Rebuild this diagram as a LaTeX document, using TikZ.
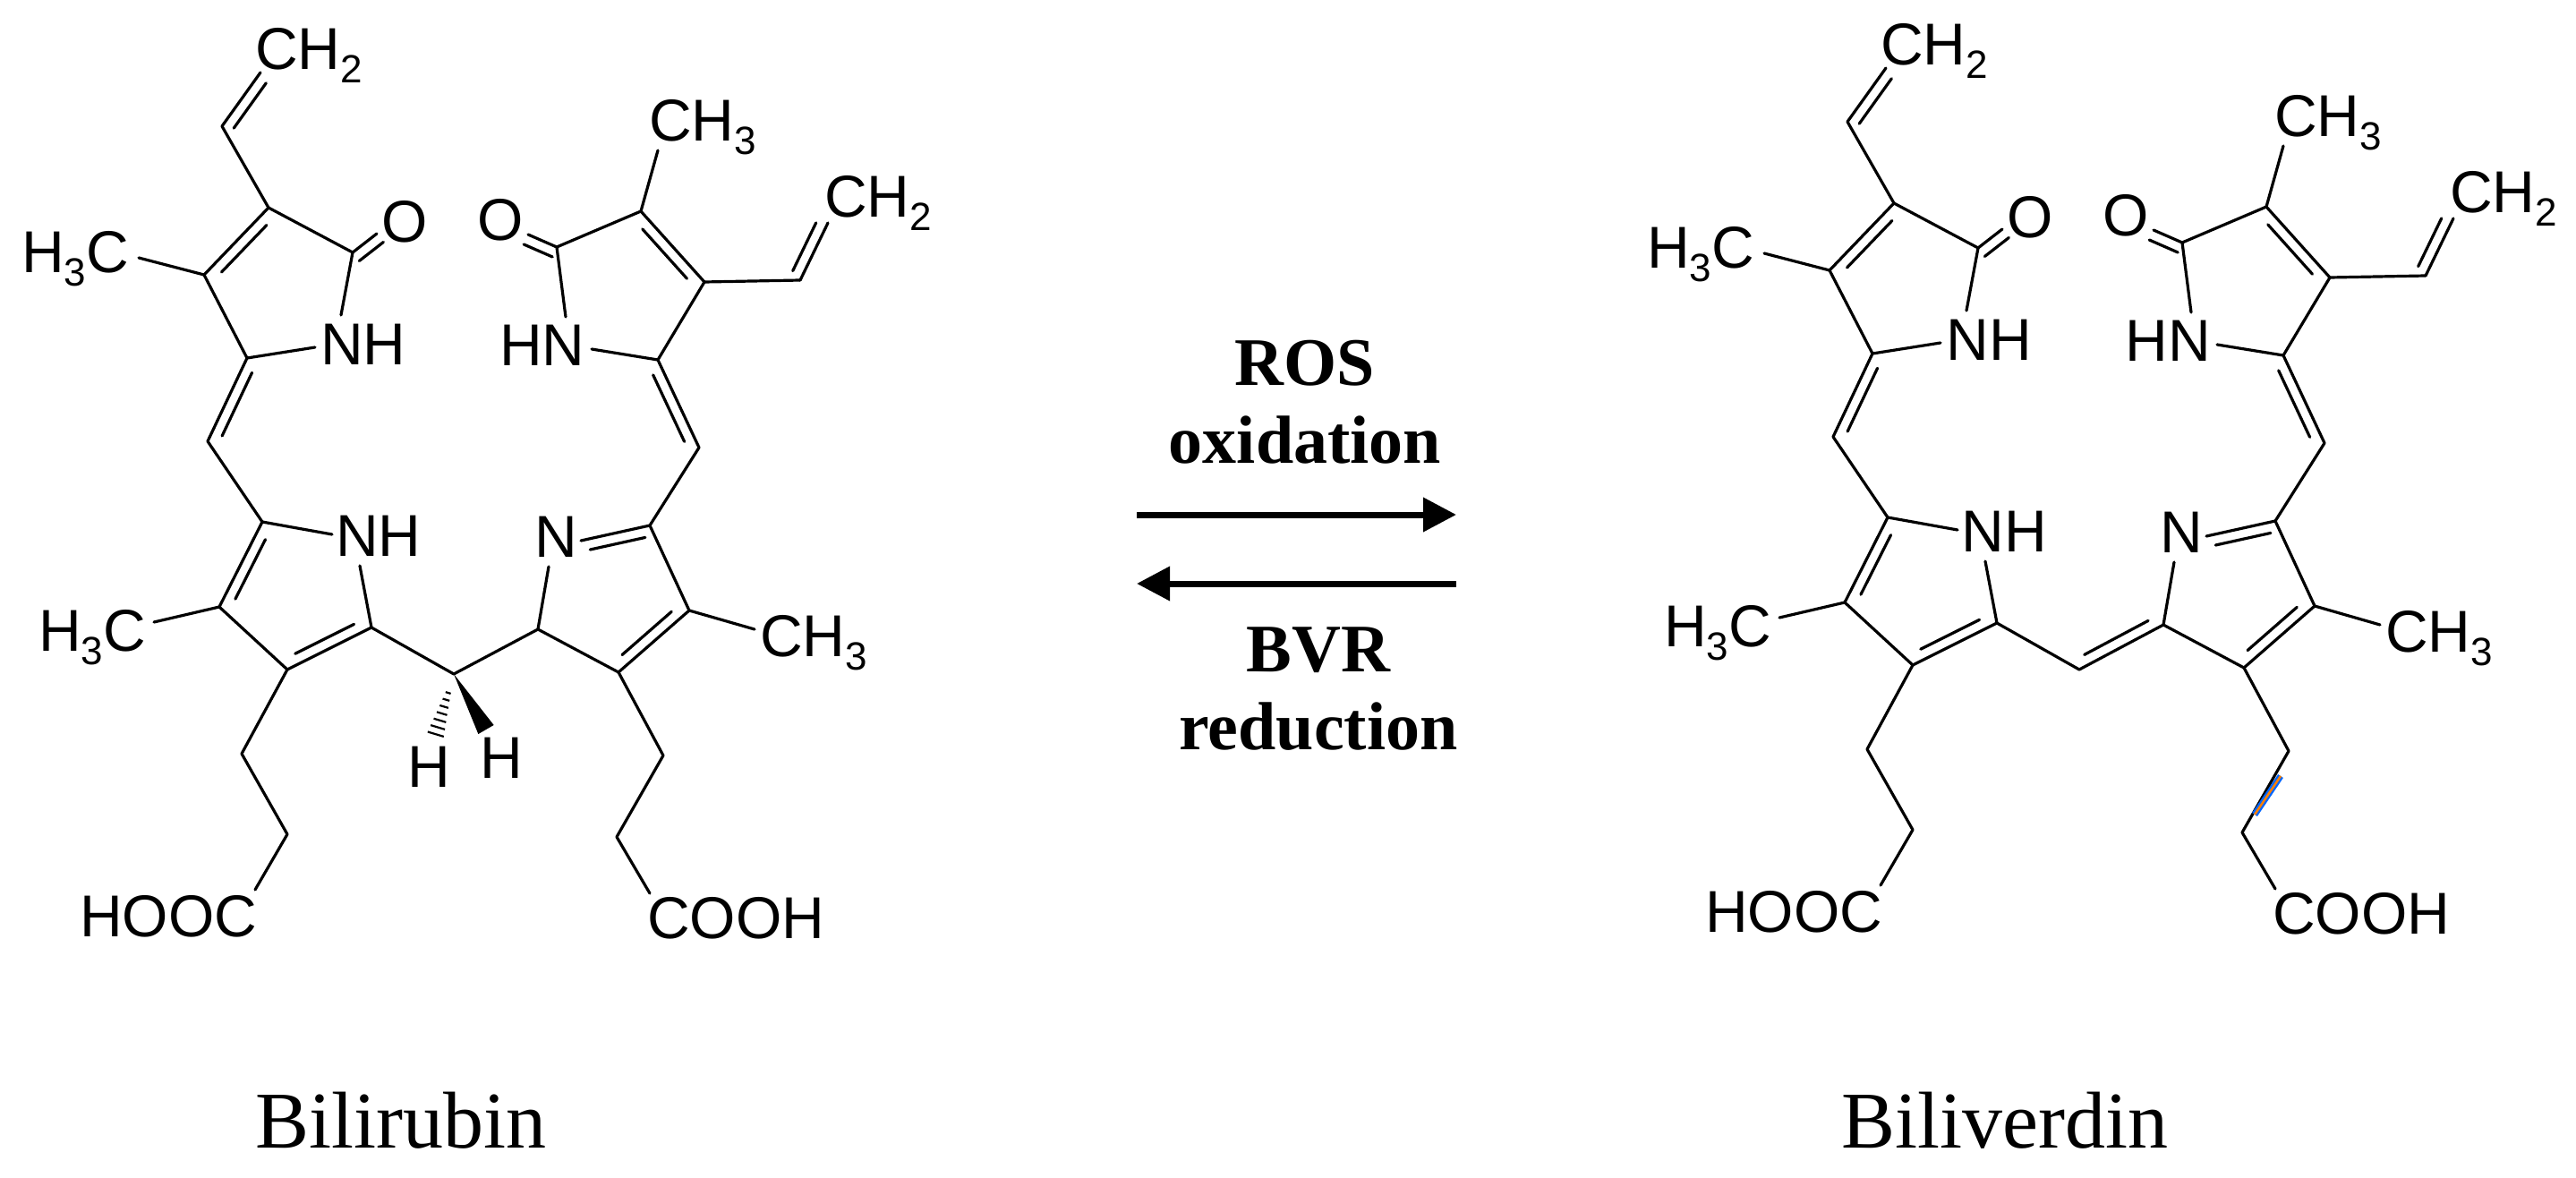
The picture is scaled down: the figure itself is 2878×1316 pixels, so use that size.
\documentclass[tikz,border=0pt]{standalone}
\usepackage{fontspec}
\setmainfont{Liberation Sans}
\newfontfamily\tms{Liberation Serif}
\usetikzlibrary{calc,arrows.meta}
\newcommand\sbs[1]{\smash{\raisebox{-0.22em}{\fontsize{44}{44}\selectfont #1}}}
\newcommand\dbl[4]{%
  \draw[bond] (#1)--(#2);
  \draw[bond] ($(#1)!#4!(#2)!12pt!#3:(#2)$) -- ($(#2)!#4!(#1)!12pt!#3+180:(#1)$);}
\newcommand\bilimol[1]{%
  \coordinate (C3) at (300,232); \coordinate (C2) at (394,282);
  \coordinate (C4) at (228,307); \coordinate (C5) at (276,400);
  \coordinate (N1e) at (381,352); \coordinate (N1f) at (352,388);
  \coordinate (Oe) at (421,261); \coordinate (V1) at (248,141); \coordinate (V2) at (291,81);
  \coordinate (Me1) at (155,288); \coordinate (M1) at (232,493);
  \coordinate (Ca) at (293,583); \coordinate (N2e) at (371,597); \coordinate (N2f) at (402,632);
  \coordinate (Cap) at (415,701); \coordinate (Cbp) at (321,748); \coordinate (Cb) at (245,678);
  \coordinate (Me2) at (172,695); \coordinate (P1) at (270,842); \coordinate (P2) at (321,932);
  \coordinate (P3) at (285,994); \coordinate (Mz) at (507,753); \coordinate (Cs) at (601,703);
  \coordinate (Hh) at (486,823); \coordinate (Hw) at (543,815);
  \coordinate (N3e) at (613,633); \coordinate (N3f) at (649,604); \coordinate (Cc) at (726,587);
  \coordinate (Cd) at (770,682); \coordinate (Ce) at (691,751); \coordinate (Me3) at (843,703);
  \coordinate (Q1) at (741,844); \coordinate (Q2) at (689,935); \coordinate (Q3) at (726,998);
  \coordinate (M2) at (781,500); \coordinate (C5p) at (735,402);
  \coordinate (N4e) at (661,390); \coordinate (N4f) at (632,354);
  \coordinate (C2p) at (622,276); \coordinate (Ope) at (590,262);
  \coordinate (C3p) at (716,236); \coordinate (C4p) at (787,315);
  \coordinate (Me4) at (735,168); \coordinate (W1) at (894,313); \coordinate (W2) at (925,249);
  % labels
  \node[atom] (tCH2a) at (345,55) {CH\sbs{2}};
  \node[atom] (tH3Ca) at (84,282) {H\sbs{3}C};
  \node[atom] (tOa) at (452,248) {O};
  \node[atom] (tNHa) at (406,385) {NH};
  \node[atom] (tNHb) at (423,599) {NH};
  \node[atom] (tH3Cb) at (103,705) {H\sbs{3}C};
  \node[atom] (tHOOC) at (188,1024) {HOOC};
  \node[atom] (tNc) at (621,600) {N};
  \node[atom] (tCH3c) at (909,711) {CH\sbs{3}};
  \node[atom] (tCOOH) at (822,1026) {COOH};
  \node[atom] (tHN) at (606,386) {HN};
  \node[atom] (tOd) at (559,246) {O};
  \node[atom] (tCH3d) at (785,135) {CH\sbs{3}};
  \node[atom] (tCH2d) at (981,220) {CH\sbs{2}};
  % ring A
  \draw[bond] (C3)--(C2); \draw[bond] (C2)--(N1e); \draw[bond] (N1f)--(C5);
  \draw[bond] (C4)--(C5); \dbl{C3}{C4}{90}{0.15}; \draw[bond] (C4)--(Me1);
  \draw[bond] (C3)--(V1); \dbl{V1}{V2}{-90}{0.08}; \dbl{C2}{Oe}{-90}{0.0};
  \dbl{C5}{M1}{90}{0.12}; \draw[bond] (M1)--(Ca);
  % ring B
  \draw[bond] (Ca)--(N2e); \draw[bond] (N2f)--(Cap); \dbl{Cap}{Cbp}{-90}{0.15};
  \draw[bond] (Cbp)--(Cb); \dbl{Ca}{Cb}{90}{0.15}; \draw[bond] (Cb)--(Me2);
  \draw[bond] (Cbp)--(P1)--(P2)--(P3);
  \draw[bond] (Cap)--(Mz);
  \ifnum#1=0
    \draw[bond] (Mz)--(Cs);
    \foreach \t/\w in {0.3/3,0.41/4,0.52/5,0.63/6,0.74/7.2,0.85/8.3,0.96/9.4}
      \draw[line width=2.2pt] ($(Mz)!\t!(Hh)!\w pt!90:(Hh)$) -- ($(Mz)!\t!(Hh)!\w pt!-90:(Hh)$);
    \fill (Mz) -- ($(Hw)!10pt!90:(Mz)$) -- ($(Hw)!10pt!-90:(Mz)$) -- cycle;
    \node[atom] (tH1) at (479,857) {H};
    \node[atom] (tH2) at (560,847) {H};
  \else
    \dbl{Mz}{Cs}{90}{0.12};
  \fi
  % ring C
  \draw[bond] (Cs)--(N3e); \dbl{N3f}{Cc}{-90}{0.1}; \draw[bond] (Cc)--(Cd);
  \dbl{Cd}{Ce}{-90}{0.15}; \draw[bond] (Ce)--(Cs); \draw[bond] (Cd)--(Me3);
  \draw[bond] (Ce)--(Q1)--(Q2)--(Q3);
  \draw[bond] (Cc)--(M2); \dbl{C5p}{M2}{-90}{0.12};
  % ring D
  \draw[bond] (C5p)--(N4e); \draw[bond] (N4f)--(C2p); \dbl{C2p}{Ope}{90}{0.0};
  \draw[bond] (C2p)--(C3p); \dbl{C3p}{C4p}{-90}{0.15}; \draw[bond] (C4p)--(C5p);
  \draw[bond] (C3p)--(Me4); \draw[bond] (C4p)--(W1); \dbl{W1}{W2}{90}{0.08};
}
\begin{document}
\begin{tikzpicture}[x=1pt,y=-1pt,
  bond/.style={line width=3.2pt,line cap=round,line join=round},
  atom/.style={inner sep=0pt,font=\fontsize{66}{70}\selectfont},
  cond/.style={inner sep=0pt,anchor=base,font=\tms\bfseries\fontsize{76}{80}\selectfont},
  arr/.style={line width=7pt,-{Triangle[length=37pt,width=37pt]}}]
\fill[white] (0,0) rectangle (2878,1316);
\useasboundingbox (0,0) rectangle (2878,1316);
\begin{scope}
  \bilimol{0}
\end{scope}
\begin{scope}[shift={(1816,-5)}]
  \bilimol{1}
\end{scope}
\draw[line width=7pt,blue!60!cyan] (2548,867) -- (2519,910);
\draw[line width=2.5pt,orange] (2548,867) -- (2519,910);
% arrows
\coordinate (a1s) at (1270,575); \coordinate (a1e) at (1627,575);
\coordinate (a2s) at (1627,652); \coordinate (a2e) at (1270,652);
\draw[arr] (a1s) -- (a1e);
\draw[arr] (a2s) -- (a2e);
\node[cond] (ros) at (1458,430) {ROS};
\node[cond] (oxi) at (1458,517) {oxidation};
\node[cond] (bvr) at (1473,750) {BVR};
\node[cond] (red) at (1473,837) {reduction};
\node[inner sep=0pt,anchor=base,font=\tms\fontsize{90}{96}\selectfont] (n1) at (448,1282) {Bilirubin};
\node[inner sep=0pt,anchor=base,font=\tms\fontsize{90}{96}\selectfont] (n2) at (2240,1282) {Biliverdin};
\end{tikzpicture}
\end{document}
